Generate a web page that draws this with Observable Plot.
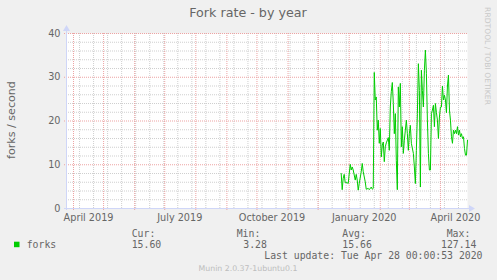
<!DOCTYPE html>
<html><head><meta charset="utf-8">
<script src="https://cdn.jsdelivr.net/npm/d3@7"></script>
<script src="https://cdn.jsdelivr.net/npm/@observablehq/plot@0.6"></script>
<style>
html,body{margin:0;padding:0;background:#f0f0f0;}
#chart{width:497px;height:280px;overflow:hidden;}
</style></head><body><div id="chart"></div>
<script>
// ---- data ----
const baseDate = "2020-01-01";            // day offsets below are relative to this date
const dayOffsets = [-8,-7,-6,-5,-4,-2,-1,1,2,3,4,6,7,8,9,10,12,13,14,16,17,19,20,22,23,24,25,26,27,28,29,30,31,32,33,34,35,36,37,39,40,41,42,43,44,45,46,47,48,49,50,51,52,53,54,55,56,57,58,59,60,61,62,64,65,66,67,68,69,70,71,72,73,74,75,76,77,78,79,80,81,82,83,84,85,86,87,88,89,90,91,92,93,94,95,96,97,98,99,100,101,102,103,104,105,106,107,108,109,110,111,112,113,114,115,116,117,118];
const forks = [8.0,4.3,6.9,7.8,5.9,5.9,5.7,10.1,8.8,9.5,
  8.8,6.5,7.8,6.5,4.2,5.7,8.4,10.3,8.4,6.1,
  4.4,4.6,4.3,4.9,4.4,4.6,31.1,24.8,25.5,17.9,
  20.2,14.9,18.3,11.8,14.5,15.2,10.7,14.1,15.0,16.2,
  13.3,23.2,26.7,28.8,24.0,17.1,21.7,11.0,4.3,27.8,
  23.2,28.6,14.1,18.7,12.6,15.6,17.9,20.2,17.1,13.3,
  17.1,19.0,14.9,12.6,9.5,5.7,13.3,21.7,33.1,27.0,
  4.9,31.6,27.0,23.2,31.6,36.2,30.9,20.2,12.6,8.8,
  8.8,21.7,22.5,23.6,18.7,24.0,21.9,20.2,16.0,20.9,
  23.2,23.2,28.0,24.8,25.9,24.8,21.9,28.0,30.5,22.5,
  20.2,16.4,14.9,17.9,17.1,17.9,17.1,18.7,16.8,17.9,
  16.4,17.1,16.0,16.4,13.7,12.2,12.2,15.6];

const xDomain = ["2019-03-25", "2020-04-28"];
const yTicks = [0, 10, 20, 30, 40];
const yMinorStep = 2;
const xLabelDates = ["2019-04-16", "2019-07-16", "2019-10-16", "2020-01-16", "2020-04-16"];
const xLabels = ["April 2019", "July 2019", "October 2019", "January 2020", "April 2020"];
const xMinorFirst = "2019-04-07";
const xMinorStepDays = 14;

const title = "Fork rate - by year";
const yLabel = "forks / second";
const seriesName = "forks";
const statNames = ["Cur:", "Min:", "Avg:", "Max:"];
const statValues = ["15.60", "3.28", "15.66", "127.14"];
const lastUpdate = "Last update: Tue Apr 28 00:00:53 2020";
const munin = "Munin 2.0.37-1ubuntu0.1";
const sideText = "RRDTOOL / TOBI OETIKER";

// ---- build ----
const base = new Date(baseDate);
const data = dayOffsets.map((d, i) => ({date: d3.utcDay.offset(base, d), value: forks[i]}));
const x0 = new Date(xDomain[0]), x1 = new Date(xDomain[1]);
const majorX = d3.utcMonth.range(d3.utcMonth.ceil(x0), x1);
const minorX = d3.utcDay.range(new Date(xMinorFirst), x1, xMinorStepDays);
const minorY = d3.range(0, 41, yMinorStep).filter(v => v % 10 !== 0);

const GRID = "#cfcfcf";
const MGRID = "#eda3a3";
const FONT = "#666666";
const AXIS = "#CFD6F8";
const GREEN = "#00cc00";

const plot = Plot.plot({
  width: 497, height: 280,
  marginLeft: 66, marginRight: 30, marginTop: 33, marginBottom: 72,
  style: {background: "#f0f0f0", fontFamily: "'DejaVu Sans', sans-serif", color: FONT},
  x: {type: "utc", domain: [x0, x1], axis: null},
  y: {domain: [0, 40], axis: null},
  marks: [
    Plot.frame({fill: "white", stroke: null}),
    Plot.ruleY(minorY, {stroke: GRID, strokeDasharray: "1,1"}),
    Plot.ruleX(minorX, {stroke: GRID, strokeDasharray: "1,1"}),
    Plot.ruleY(yTicks, {stroke: MGRID, strokeDasharray: "1,1", insetLeft: -2}),
    Plot.ruleX(majorX, {stroke: MGRID, strokeDasharray: "1,1", insetBottom: -2}),
    Plot.line(data, {x: "date", y: "value", stroke: GREEN, strokeWidth: 1}),
    Plot.text(yTicks, {x: () => x0, y: d => d, text: d => String(d), textAnchor: "end", dx: -6, fontSize: 9.7, fill: FONT}),
    Plot.text(xLabelDates, {x: d => new Date(d), y: () => 0, text: (d, i) => xLabels[i], dy: 9.3, fontSize: 9.7, fill: FONT})
  ]
});
document.getElementById("chart").appendChild(plot);

const X = plot.scale("x"), Y = plot.scale("y");
const svg = d3.select(plot);
const ax = X.apply(x0), ay = Y.apply(0), ayTop = Y.apply(40), axRight = X.apply(x1);
const g = svg.append("g").attr("text-anchor", "start");
// axes with arrows
g.append("line").attr("x1", ax + 0.5).attr("x2", ax + 0.5).attr("y1", ay + 2).attr("y2", ayTop - 4).attr("stroke", AXIS);
g.append("path").attr("d", `M${ax + 0.5},${ayTop - 8}L${ax - 3},${ayTop - 2}L${ax + 4},${ayTop - 2}Z`).attr("fill", AXIS);
g.append("line").attr("x1", ax - 2).attr("x2", axRight + 4).attr("y1", ay + 0.5).attr("y2", ay + 0.5).attr("stroke", AXIS);
g.append("path").attr("d", `M${axRight + 8},${ay + 0.5}L${axRight + 2},${ay - 3}L${axRight + 2},${ay + 4}Z`).attr("fill", AXIS);

// title & labels
g.append("text").attr("x", 248).attr("y", 16.5).attr("text-anchor", "middle")
  .attr("font-family", "'DejaVu Sans', sans-serif").attr("font-size", 12.7).attr("fill", FONT).text(title);
g.append("text").attr("transform", "translate(15.3,120) rotate(-90)").attr("text-anchor", "middle")
  .attr("font-family", "'DejaVu Sans', sans-serif").attr("font-size", 11.1).attr("fill", FONT).text(yLabel);
g.append("text").attr("transform", "translate(485,56) rotate(90)").attr("text-anchor", "middle")
  .attr("font-family", "'DejaVu Sans', sans-serif").attr("font-size", 7.6).attr("fill", "#c8c8c8").text(sideText);

// legend
const mono = "'DejaVu Sans Mono', monospace";
const statX = [131.7, 236.7, 342.3, 446.7];
const valX = [131.7, 243.3, 342.3, 441];
statNames.forEach((s, i) => g.append("text").attr("x", statX[i]).attr("y", 236.7).attr("text-anchor", "start")
  .attr("font-family", mono).attr("font-size", 9.8).attr("fill", FONT).text(s));
statValues.forEach((s, i) => g.append("text").attr("x", valX[i]).attr("y", 248.3).attr("text-anchor", "start")
  .attr("font-family", mono).attr("font-size", 9.8).attr("fill", FONT).text(s));
g.append("rect").attr("x", 14).attr("y", 241.7).attr("width", 5.5).attr("height", 5.5).attr("fill", GREEN);
g.append("text").attr("x", 26.7).attr("y", 248.3).attr("text-anchor", "start").attr("font-family", mono).attr("font-size", 9.8).attr("fill", FONT).text(seriesName);
g.append("text").attr("x", 482.5).attr("y", 259).attr("text-anchor", "end")
  .attr("font-family", mono).attr("font-size", 9.8).attr("fill", FONT).text(lastUpdate);
g.append("text").attr("x", 248).attr("y", 271.3).attr("text-anchor", "middle")
  .attr("font-family", "'DejaVu Sans', sans-serif").attr("font-size", 7.8).attr("fill", "#bdbdbd").text(munin);
</script></body></html>
